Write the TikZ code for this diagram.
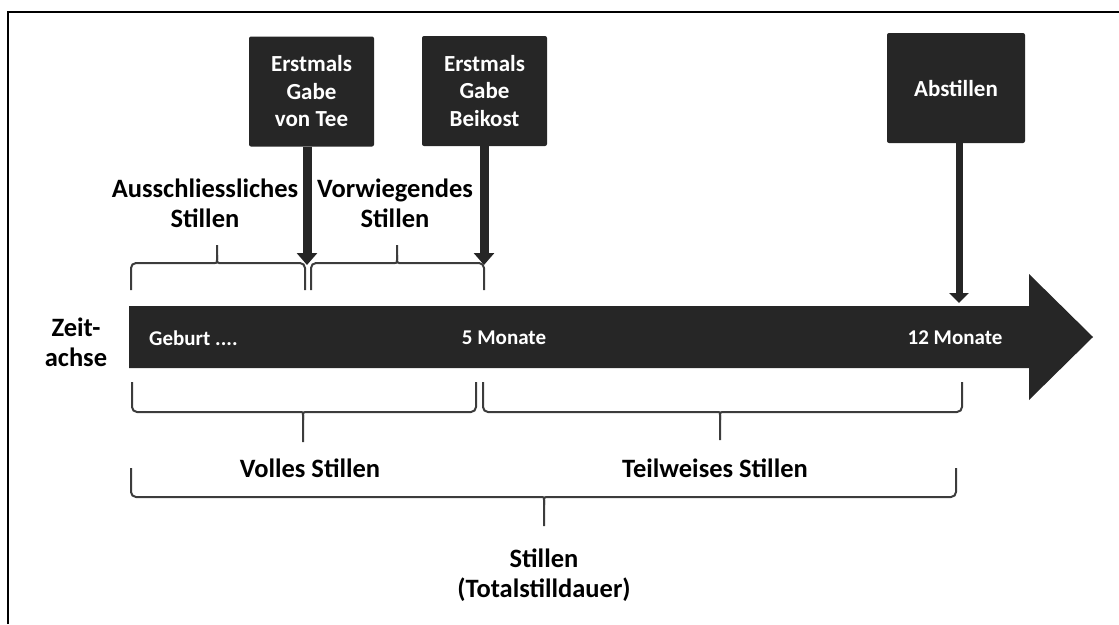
\documentclass[tikz,border=0pt]{standalone}
\usepackage{fontspec}
\setmainfont{Carlito}
\usetikzlibrary{arrows.meta,calc}

\definecolor{dunkel}{HTML}{262626}

\tikzset{
  ereignis/.style={fill=dunkel, text=white, rounded corners=2pt, align=center,
    inner sep=0pt, minimum width=125pt, minimum height=110pt,
    font=\bfseries\fontsize{23}{27.5}\selectfont},
  beschrift/.style={align=center, font=\bfseries\fontsize{26.5}{30}\selectfont},
  balkentext/.style={text=white, inner sep=0pt, font=\bfseries\fontsize{21}{24}\selectfont},
  klammerlinie/.style={draw=dunkel!90, line width=2pt, rounded corners=5pt},
  pfeil/.style={draw=dunkel, line width=9pt, -{Triangle[width=20pt,length=12pt]}},
}

% geschweifte Klammer: x links, x Spitze, x rechts, y Enden, y Mitte, y Spitze
\newcommand{\klammer}[6]{%
  \pgfmathsetmacro{\kd}{#6>#5 ? 8 : -8}
  \draw[klammerlinie] (#1,#4) -- (#1,#5) -- (#2-7,#5) .. controls (#2,#5) .. (#2,#5+\kd) -- (#2,#6);
  \draw[klammerlinie] (#3,#4) -- (#3,#5) -- (#2+7,#5) .. controls (#2,#5) .. (#2,#5+\kd);
}

\begin{document}
\begin{tikzpicture}[x=1pt,y=-1pt]
    \useasboundingbox (0,0) rectangle (1119,624);
    \draw[line width=2pt] (8,624) -- (8,12) -- (1119,12);

    % Zeitachse
    \fill[dunkel] (129,306) -- (1029,306) -- (1029,274) -- (1093,337)
        -- (1029,400) -- (1029,368) -- (129,368) -- cycle;
    \node[beschrift] (zeit) at (76,342) {Zeit-\\achse};
    \node[balkentext, anchor=west] (geburt) at (149,338) {Geburt ....};
    \node[balkentext] (fuenf) at (504,338) {5 Monate};
    \node[balkentext] (zwoelf) at (955,338) {12 Monate};

    % Ereignisse
    \node[ereignis] (tee) at (311.5,91.5) {Erstmals\\Gabe\\von Tee};
    \node[ereignis] (beikost) at (484.5,91) {Erstmals\\Gabe\\Beikost};
    \node[ereignis, minimum width=138pt] (abstillen) at (956,88) {Abstillen};
    \coordinate (teetip) at (307,265);
    \coordinate (beikosttip) at (484,265);
    \coordinate (abstilltip) at (959,303);
    \draw[pfeil] (tee.south -| teetip) -- (teetip);
    \draw[pfeil] (beikost.south -| beikosttip) -- (beikosttip);
    \draw[pfeil, line width=7pt, -{Triangle[width=19pt,length=10pt]}] (abstillen.south -| abstilltip) -- (abstilltip);

    % Klammern oben
    \klammer{131}{217}{305}{290}{263}{245}
    \klammer{311}{397}{484}{290}{263}{245}
    \node[beschrift] (ausschl) at (205,203) {Ausschliessliches\\Stillen};
    \node[beschrift] (vorwieg) at (395,203) {Vorwiegendes\\Stillen};

    % Klammern unten
    \klammer{132}{303}{476}{382}{412}{442}
    \klammer{483}{720}{962}{382}{412}{440}
    \klammer{131}{544}{956}{468}{497}{526}
    \node[beschrift] (volles) at (310,468) {Volles Stillen};
    \node[beschrift] (teilw) at (715,468) {Teilweises Stillen};
    \node[beschrift] (gesamt) at (544,575) {Stillen\\(Totalstilldauer)};
\end{tikzpicture}
\end{document}
